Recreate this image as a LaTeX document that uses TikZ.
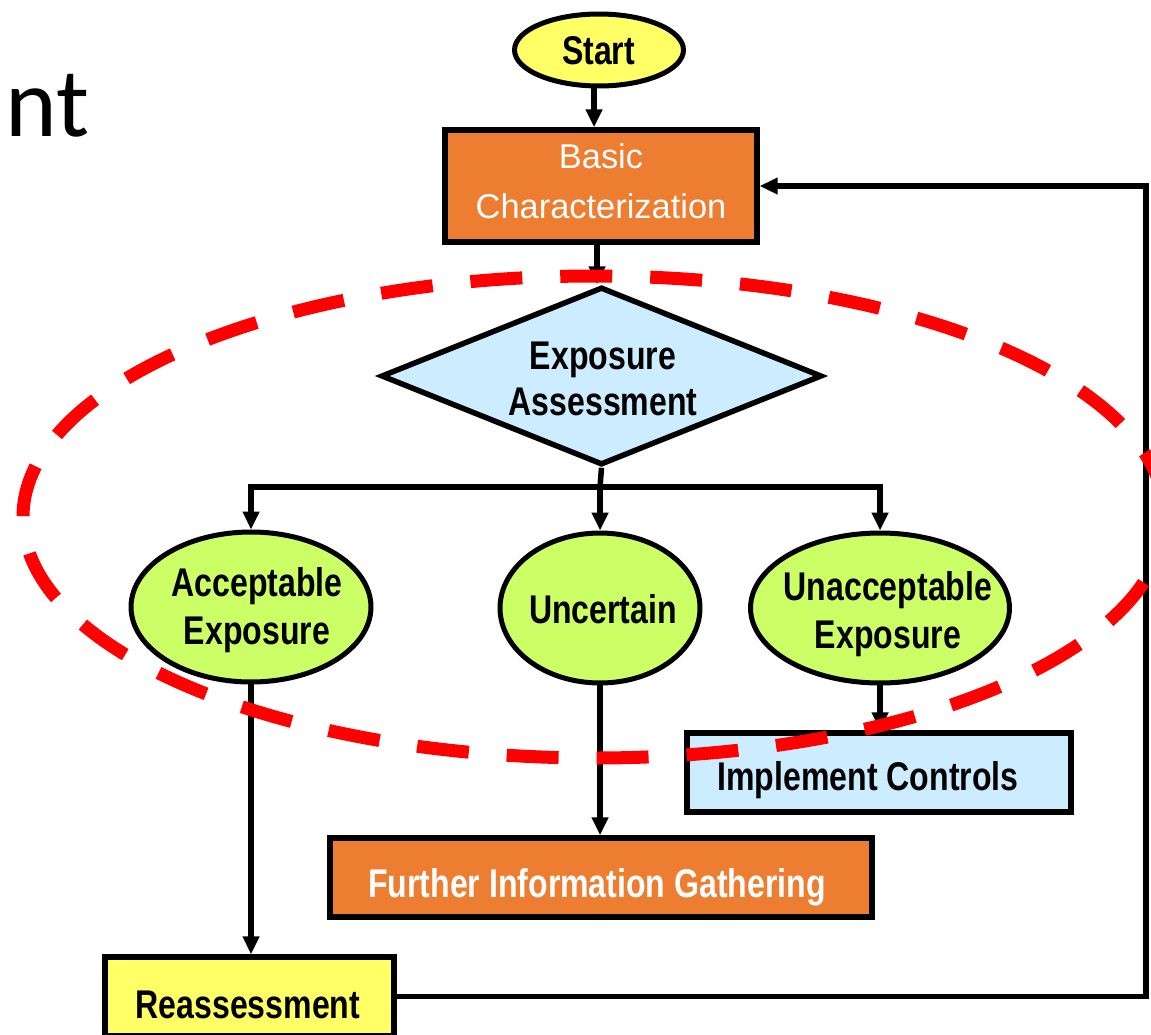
\documentclass[tikz,border=0pt]{standalone}
\usepackage{fontspec}
\setmainfont{Liberation Sans}
\newfontfamily\narrowfont{Liberation Sans}[FakeStretch=0.8]
\newfontfamily\titlefont{Carlito}
\usetikzlibrary{shapes.geometric,arrows.meta}
\definecolor{cyel}{HTML}{FFFF66}
\definecolor{corange}{HTML}{ED7D31}
\definecolor{cblue}{HTML}{CCECFF}
\definecolor{clime}{HTML}{CCFF66}
\definecolor{cred}{HTML}{FF0000}
\begin{document}
\begin{tikzpicture}[x=0.02cm,y=-0.02cm,
  box/.style={draw=black, line width=0.11cm, rectangle, inner sep=0pt},
  ell/.style={draw=black, line width=0.1cm, ellipse, inner sep=0pt, fill=clime},
  arr/.style={line width=0.11cm, -{Triangle[width=0.32cm,length=0.36cm]}},
  ln/.style={line width=0.11cm},
  bt/.style={inner sep=0pt, align=center, font=\narrowfont\bfseries\fontsize{22.8}{27.3}\selectfont},
  wt/.style={inner sep=0pt, align=center, font=\fontsize{19.6}{28.5}\selectfont, text=white},
  redring/.style={draw=cred, line width=0.26cm, dash pattern=on 1.04cm off 0.76cm, dash phase=0.4cm}
]
\useasboundingbox (0,0) rectangle (1151,1034);

\node[font=\titlefont\fontsize{56}{60}\selectfont, anchor=base west, inner sep=0pt] (title) at (5,136) {nt};

% shapes
\node[ell, fill=cyel, minimum width=3.38cm, minimum height=1.44cm] (start) at (599,50) {};
\node[box, fill=corange, minimum width=6.24cm, minimum height=2.24cm] (basic) at (601,186) {};
\node[diamond, draw=black, line width=0.11cm, fill=cblue, inner sep=0pt, minimum width=8.82cm, minimum height=3.56cm] (expo) at (601.5,376) {};
\node[ell, minimum width=4.8cm, minimum height=3.0cm] (acc) at (251,607) {};
\node[ell, minimum width=4.0cm, minimum height=3.0cm] (unc) at (600,608) {};
\node[ell, minimum width=5.18cm, minimum height=3.0cm] (unacc) at (880,608) {};
\node[box, fill=cblue, minimum width=7.68cm, minimum height=1.58cm] (impl) at (879,772.5) {};
\node[box, fill=corange, minimum width=10.84cm, minimum height=1.58cm] (further) at (601,877.5) {};
\node[box, fill=cyel, minimum width=5.78cm, minimum height=1.58cm] (reas) at (249.5,996.5) {};

% texts
\node[bt, anchor=base] (starttext) at (598.5,65) {Start};
\node[wt] (basictext) at (601,181) {Basic\\Characterization};
\node[bt, font=\narrowfont\bfseries\fontsize{22.8}{26.2}\selectfont] (expotext) at (603,379) {Exposure\\Assessment};
\node[bt] (acctext) at (257,610) {Acceptable\\Exposure};
\node[bt] (unctext) at (603,609) {Uncertain};
\node[bt] (unacctext) at (888,614) {Unacceptable\\Exposure};
\node[bt, anchor=base] (impltext) at (868,790) {Implement Controls};
\node[bt, anchor=base, text=white] (furthertext) at (597,897) {Further Information Gathering};
\node[bt, anchor=base] (reastext) at (248,1018) {Reassessment};

% connectors
\coordinate (split) at (600,487);
\coordinate (fbb) at (1146,996);
\coordinate (fbt) at (1146,186);

\draw[arr] (start.south -| 594,0) -- (594,0 |- basic.north);
\draw[arr] (597,0 |- basic.south) -- (597,0 |- expo.north);
\draw[ln] (expo.south) -- (split);
\draw[arr] (split) -| (acc.north);
\draw[arr] (split) -- (unc.north);
\draw[arr] (split) -| (unacc.north);
\draw[arr] (acc.south) -- (acc.south |- reas.north);
\draw[arr] (unc.south) -- (unc.south |- further.north);
\draw[arr] (unacc.south) -- (unacc.south |- impl.north);
\draw[arr] (reas.east) -- (reas.east -| fbb) -- (fbt) -- (basic.east);

\draw[redring] (594,517) ellipse [x radius=571, y radius=241];
\end{tikzpicture}
\end{document}
